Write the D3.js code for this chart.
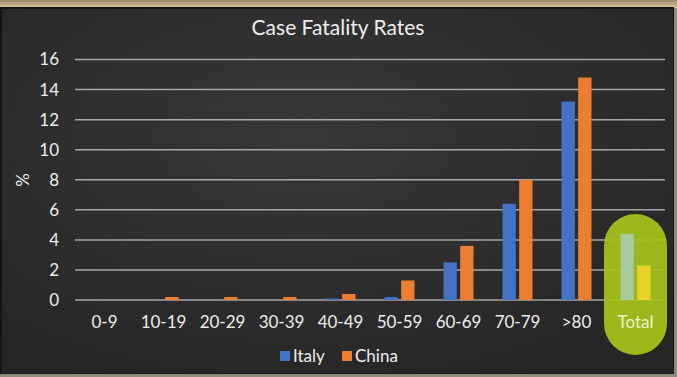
<!DOCTYPE html>
<html>
<head>
<meta charset="utf-8">
<script src="https://cdn.jsdelivr.net/npm/d3@7"></script>
<style>
  html, body { margin: 0; padding: 0; background: #1c1c1c; }
  svg { display: block; }
</style>
</head>
<body>
<svg id="chart"></svg>
<script>
const categories = ["0-9", "10-19", "20-29", "30-39", "40-49", "50-59", "60-69", "70-79", ">80", "Total"];
const italy = [0, 0, 0, 0, 0.1, 0.2, 2.5, 6.4, 13.2, 4.4];
const china = [0, 0.2, 0.2, 0.2, 0.4, 1.3, 3.6, 8.0, 14.8, 2.3];
const yTicks = [0, 2, 4, 6, 8, 10, 12, 14, 16];
const seriesNames = ["Italy", "China"];

const W = 677, H = 377;
const font = "Lato, 'Open Sans', sans-serif";
const chalk = "#eeeeee";

const svg = d3.select("#chart").attr("width", W).attr("height", H);

// frame + chalkboard
const defs = svg.append("defs");
const grad = defs.append("radialGradient").attr("id", "board").attr("cx", "45%").attr("cy", "35%").attr("r", "75%");
grad.append("stop").attr("offset", "0%").attr("stop-color", "#373737");
grad.append("stop").attr("offset", "100%").attr("stop-color", "#252525");

const wood = defs.append("linearGradient").attr("id", "wood").attr("x1", 0).attr("x2", 0).attr("y1", 0).attr("y2", 1);
wood.append("stop").attr("offset", "0%").attr("stop-color", "#9c8b68");
wood.append("stop").attr("offset", "100%").attr("stop-color", "#d6c69c");

svg.append("rect").attr("width", W).attr("height", H).attr("fill", "#8f8a7a");
svg.append("rect").attr("width", W).attr("height", 8).attr("fill", "url(#wood)");
svg.append("rect").attr("x", 0).attr("y", 7).attr("width", 674).attr("height", 367).attr("fill", "#151515");
svg.append("rect").attr("x", 2).attr("y", 9).attr("width", 671).attr("height", 364).attr("fill", "url(#board)");

const x = d3.scaleBand().domain(categories).range([75, 665]).padding(0);
const y = d3.scaleLinear().domain([0, 16]).range([300, 59.5]);
const inner = d3.scaleBand().domain(seriesNames).range([-15, 15]).paddingInner(0.2);
const color = d3.scaleOrdinal().domain(seriesNames).range(["#4472c4", "#ed7d31"]);
const totalColor = d3.scaleOrdinal().domain(seriesNames).range(["#a8ca9e", "#e9d12a"]);

// gridlines
svg.append("g")
  .selectAll("line")
  .data(yTicks)
  .join("line")
  .attr("x1", 75).attr("x2", 665)
  .attr("y1", d => y(d)).attr("y2", d => y(d))
  .attr("stroke", "#b4b4b4")
  .attr("stroke-width", 1.5)
  .attr("stroke-opacity", 0.9);

// y axis
const yAxis = svg.append("g")
  .attr("transform", "translate(59,0)")
  .call(d3.axisLeft(y).tickValues(yTicks).tickSize(0).tickPadding(0));
yAxis.select(".domain").remove();
yAxis.selectAll("text")
  .attr("fill", chalk)
  .style("font-family", font)
  .style("font-size", "17px");

svg.append("text")
  .attr("transform", "translate(29,180) rotate(-90)")
  .attr("text-anchor", "middle")
  .attr("fill", chalk)
  .style("font-family", font)
  .style("font-size", "17px")
  .text("%");

// total highlight pill
const tx = x("Total") + x.bandwidth() / 2;
svg.append("rect")
  .attr("x", tx - 31.5).attr("y", 214)
  .attr("width", 63).attr("height", 141)
  .attr("rx", 31.5).attr("ry", 31.5)
  .attr("fill", "#a5c31a")
  .attr("fill-opacity", 0.93);

// bars
const rows = categories.map((c, i) => ({ cat: c, values: [
  { name: "Italy", value: italy[i] },
  { name: "China", value: china[i] }
]}));

const groups = svg.append("g")
  .selectAll("g")
  .data(rows)
  .join("g")
  .attr("transform", d => `translate(${x(d.cat) + x.bandwidth() / 2},0)`);

groups.selectAll("rect")
  .data(d => d.values.map(v => ({ ...v, cat: d.cat })))
  .join("rect")
  .attr("x", d => inner(d.name))
  .attr("width", inner.bandwidth())
  .attr("y", d => y(d.value))
  .attr("height", d => y(0) - y(d.value))
  .attr("fill", d => d.cat === "Total" ? totalColor(d.name) : color(d.name));

// x axis labels
const xAxis = svg.append("g")
  .attr("transform", "translate(0,300)")
  .call(d3.axisBottom(x).tickSize(0).tickPadding(16));
xAxis.select(".domain").remove();
xAxis.selectAll("text")
  .attr("fill", d => d === "Total" ? "#eef3c8" : chalk)
  .style("font-family", font)
  .style("font-size", "17px");

// title
svg.append("text")
  .attr("x", 338).attr("y", 35)
  .attr("text-anchor", "middle")
  .attr("fill", chalk)
  .style("font-family", font)
  .style("font-size", "21px")
  .text("Case Fatality Rates");

// legend
const legend = svg.append("g").attr("transform", "translate(280,356)");
const items = legend.selectAll("g")
  .data(seriesNames)
  .join("g")
  .attr("transform", (d, i) => `translate(${i * 62},0)`);
items.append("rect")
  .attr("x", 0).attr("y", -5)
  .attr("width", 10).attr("height", 10)
  .attr("fill", d => color(d));
items.append("text")
  .attr("x", 13).attr("y", 6)
  .attr("fill", chalk)
  .style("font-family", font)
  .style("font-size", "17px")
  .text(d => d);
</script>
</body>
</html>
